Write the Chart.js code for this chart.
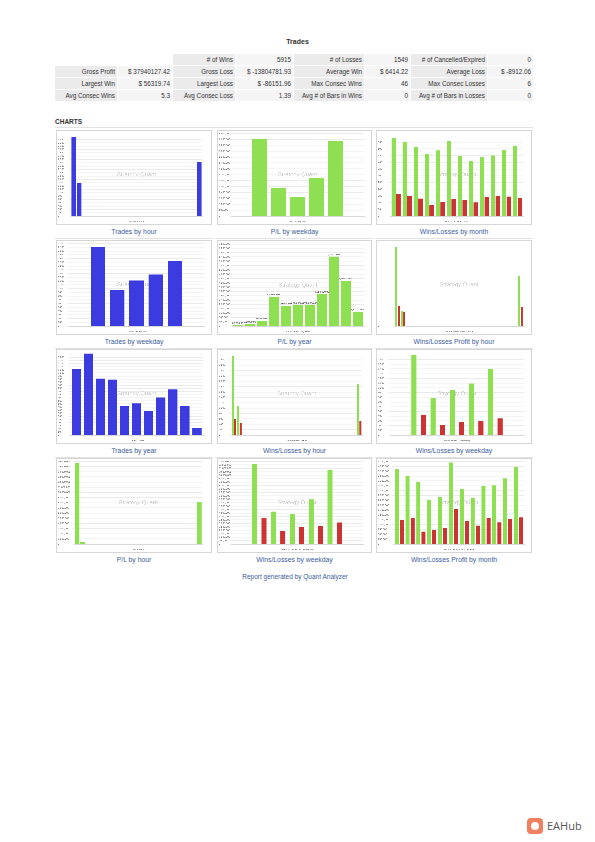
<!DOCTYPE html>
<html><head><meta charset="utf-8">
<script src="https://cdn.jsdelivr.net/npm/chart.js@4.4.0/dist/chart.umd.min.js"></script>
<style>
body{margin:0;width:595px;height:842px;background:#fff;font-family:"Liberation Sans",Arial,sans-serif;position:relative;overflow:hidden;color:#333}
.abs{position:absolute}
#title{left:0;width:595px;top:37px;text-align:center;font-weight:bold;font-size:7px;line-height:9px}
table{position:absolute;left:54px;top:53px;border-collapse:separate;border-spacing:1px;font-size:6.3px;table-layout:fixed;width:480px}
td{height:11px;padding:0 2px;text-align:right;white-space:nowrap;overflow:hidden;line-height:11px}
td.l{background:#ebebeb}
td.v{background:#f5f5f5}
#charts{left:55px;top:117px;font-weight:bold;font-size:6.5px;line-height:9px}
.hr{height:1px;background:#e2e2e2}
.box{border:1px solid #d6d6d6;box-sizing:border-box;background:#fff}
.box canvas{display:block}
.cap{text-align:center;font-size:6.8px;line-height:9px;color:#3d5c9c}
#foot{left:0;width:590px;top:572px;text-align:center;font-size:6.5px;line-height:9px;color:#3d5c9c}
#eah{left:527px;top:818px;width:16px;height:16px;border-radius:4px;background:#f08060}
#eah::after{content:"";position:absolute;left:4px;top:4px;width:8px;height:8px;border-radius:50%;background:#fff}
#eat{left:547px;top:818px;font-size:11px;line-height:16px;color:#555;font-family:"Open Sans",Arial,sans-serif}
</style></head>
<body>
<div id="title" class="abs">Trades</div>
<table>
<colgroup><col style="width:62px"><col style="width:54px"><col style="width:62px"><col style="width:57px"><col style="width:70px"><col style="width:45px"><col style="width:76px"><col style="width:45px"></colgroup>
<tr><td></td><td></td><td class="l"># of Wins</td><td class="v">5915</td><td class="l"># of Losses</td><td class="v">1549</td><td class="l"># of Cancelled/Expired</td><td class="v">0</td></tr>
<tr><td class="l">Gross Profit</td><td class="v">$ 37940127.42</td><td class="l">Gross Loss</td><td class="v">$ -13804781.93</td><td class="l">Average Win</td><td class="v">$ 6414.22</td><td class="l">Average Loss</td><td class="v">$ -8912.06</td></tr>
<tr><td class="l">Largest Win</td><td class="v">$ 56319.74</td><td class="l">Largest Loss</td><td class="v">$ -86151.96</td><td class="l">Max Consec Wins</td><td class="v">46</td><td class="l">Max Consec Losses</td><td class="v">6</td></tr>
<tr><td class="l">Avg Consec Wins</td><td class="v">5.3</td><td class="l">Avg Consec Loss</td><td class="v">1.39</td><td class="l">Avg # of Bars in Wins</td><td class="v">0</td><td class="l">Avg # of Bars in Losses</td><td class="v">0</td></tr>
</table>
<div id="charts" class="abs">CHARTS</div>
<div class="abs hr" style="left:55px;top:127px;width:478px"></div>
<div id="grid"></div>
<div id="foot" class="abs">Report generated by Quant Analyzer</div>
<div id="eah" class="abs"></div>
<div id="eat" class="abs">EAHub</div>

<script>
// ---------- DATA ----------
const hourLabels = ['0','1','2','3','4','5','6','7','8','9','10','11','12','13','14','15','16','17','18','19','20','21','22','23'];
const weekdayLabels = ['Sun','Mon','Tue','Wed','Thu','Fri','Sat'];
const monthLabels = ['Jan','Feb','Mar','Apr','May','Jun','Jul','Aug','Sep','Oct','Nov','Dec'];
const yearLabels = ['2008','2009','2010','2011','2012','2013','2014','2015','2016','2017','2018'];

const tradesByHour = [3550,1480,0,0,0,0,0,0,0,0,0,0,0,0,0,0,0,0,0,0,0,0,0,2430];
const plByHour = [15700000,350000,0,0,0,0,0,0,0,0,0,0,0,0,0,0,0,0,0,0,0,0,0,8080000];
const winsByHour = [2950,1070,0,0,0,0,0,0,0,0,0,0,0,0,0,0,0,0,0,0,0,0,0,1896];
const lossesByHour = [587,433,0,0,0,0,0,0,0,0,0,0,0,0,0,0,0,0,0,0,0,0,0,528];
const winProfitByHour = [20830000,3970000,0,0,0,0,0,0,0,0,0,0,0,0,0,0,0,0,0,0,0,0,0,13090000];
const lossProfitByHour = [5200000,3600000,0,0,0,0,0,0,0,0,0,0,0,0,0,0,0,0,0,0,0,0,0,5000000];

const tradesByWeekday = [0,2112,968,1214,1373,1742,0];
const plByWeekday = [0,7860000,2880000,1900000,3840000,7660000,0];
const winsByWeekday = [0,1691,780,954,1093,1399,0];
const lossesByWeekday = [0,420,207,275,296,351,0];
const winProfitByWeekday = [0,11600000,4720000,4350000,6480000,10790000,0];
const lossProfitByWeekday = [0,3740000,1840000,2450000,2640000,3130000,0];

const winsByMonth = [582,550,514,460,489,557,446,409,438,451,492,524];
const lossesByMonth = [165,150,130,83,106,126,121,101,140,148,145,133];
const winProfitByMonth = [3850000,3520000,3210000,2260000,2430000,4200000,2830000,2390000,3000000,3020000,3380000,3960000];
const lossProfitByMonth = [1220000,1330000,640000,710000,820000,1790000,1200000,950000,1330000,1110000,1270000,1370000];

const tradesByYear = [1066,1313,909,893,473,509,384,605,735,468,110];
const plByYear = [60000,182000,494000,2720000,1880000,1920000,1920000,2960000,6430000,4200000,1330000];

// ---------- STYLE ----------
const FONT = "'Liberation Sans', Arial, sans-serif";
const BLUE = '#3b3bdf', GREEN = '#8ee052', RED = '#cc3434';

const watermark = {
  id: 'wm',
  beforeDatasetsDraw(chart) {
    const {ctx, chartArea: a} = chart;
    ctx.save();
    ctx.font = '5.8px ' + FONT;
    ctx.fillStyle = '#cfcfcf';
    ctx.textAlign = 'center';
    ctx.textBaseline = 'middle';
    ctx.fillText('Strategy Quant', (a.left + a.right) / 2, (a.top + a.bottom) / 2);
    ctx.restore();
  }
};
const valueLabels = {
  id: 'vl',
  afterDatasetsDraw(chart, args, opts) {
    if (!opts.on) return;
    const {ctx} = chart;
    ctx.save();
    ctx.font = '2.5px ' + FONT;
    ctx.fillStyle = '#333';
    ctx.textAlign = 'center';
    ctx.textBaseline = 'bottom';
    const meta = chart.getDatasetMeta(0);
    meta.data.forEach((el, i) => {
      const v = chart.data.datasets[0].data[i];
      ctx.fillText(v.toLocaleString('en-US') + '.00', el.x, el.y - 0.8);
    });
    ctx.restore();
  }
};

function makeChart(canvas, labels, datasets, c) {
  return new Chart(canvas, {
    type: 'bar',
    data: {labels, datasets: datasets.map(d => ({
      data: d.data, backgroundColor: d.color, borderWidth: 0,
      categoryPercentage: c.cat, barPercentage: c.bar
    }))},
    options: {
      responsive: false, animation: false, devicePixelRatio: 3,
      layout: {padding: {left: 1, right: c.padR, top: c.top || 2, bottom: 1}},
      plugins: {legend: {display: false}, tooltip: {enabled: false}, vl: {on: !!c.labels}},
      scales: {
        x: {
          grid: {display: false},
          border: {color: '#bbb', width: 0.6},
          ticks: {font: {size: 2.5, family: FONT}, color: '#555', maxRotation: 0, autoSkip: false, padding: 1.5},
          title: {display: true, text: c.title, font: {size: 2.5, family: FONT}, color: '#555', padding: {top: 0.5, bottom: 0}},
          afterFit(s) { s.height = 7; }
        },
        y: {
          min: 0, max: c.max,
          ticks: {stepSize: c.step, font: {size: 2.5, family: FONT}, color: '#555', autoSkip: false, padding: 1, crossAlign: 'far'},
          grid: {color: '#ebebeb', lineWidth: 0.6, tickLength: 1.5},
          border: {display: false},
          afterBuildTicks(s) { s.ticks = s.ticks.filter(t => Math.abs(t.value / c.step - Math.round(t.value / c.step)) < 1e-6); },
          afterFit(s) { s.width = c.yW; }
        }
      }
    },
    plugins: [watermark, valueLabels]
  });
}

const lefts = [56, 217, 376], widths = [156, 155, 156], tops = [130, 240, 349, 458], H = 95;
const specs = [
  {cap: 'Trades by hour', labels: hourLabels, ds: [{data: tradesByHour, color: BLUE}], c: {max: 3720, step: 150, title: 'Trades / Hour', yW: 13, padR: 9, cat: 0.9, bar: 0.92}},
  {cap: 'P/L by weekday', labels: weekdayLabels, ds: [{data: plByWeekday, color: GREEN}], c: {max: 8400000, step: 600000, title: 'P/L / Weekday', yW: 12, padR: 7, cat: 0.85, bar: 0.9}},
  {cap: 'Wins/Losses by month', labels: monthLabels, ds: [{data: winsByMonth, color: GREEN}, {data: lossesByMonth, color: RED}], c: {max: 615, step: 50, title: 'Wins/Losses / Month', yW: 12.6, padR: 8, cat: 0.85, bar: 0.93}},
  {cap: 'Trades by weekday', labels: weekdayLabels, ds: [{data: tradesByWeekday, color: BLUE}], c: {max: 2200, step: 100, title: 'Trades / Weekday', yW: 11, padR: 7, cat: 0.85, bar: 0.88}},
  {cap: 'P/L by year', labels: yearLabels, ds: [{data: plByYear, color: GREEN}], c: {max: 7600000, step: 400000, title: 'P/L in Dollars by Year', yW: 12.7, padR: 7, cat: 0.9, bar: 0.94, labels: true, top: 3}},
  {cap: 'Wins/Losses Profit by hour', labels: hourLabels, ds: [{data: winProfitByHour, color: GREEN}, {data: lossProfitByHour, color: RED}], c: {max: 21700000, step: 1000000, title: 'Wins/Losses Profit / Hour', yW: 17, padR: 8, cat: 1.0, bar: 0.74}},
  {cap: 'Trades by year', labels: yearLabels, ds: [{data: tradesByYear, color: BLUE}], c: {max: 1330, step: 50, title: 'Trades / Year', yW: 12.3, padR: 8, cat: 0.85, bar: 0.9}},
  {cap: 'Wins/Losses by hour', labels: hourLabels, ds: [{data: winsByHour, color: GREEN}, {data: lossesByHour, color: RED}], c: {max: 3070, step: 200, title: 'Wins/Losses / Hour', yW: 12.3, padR: 9, cat: 0.85, bar: 0.87}},
  {cap: 'Wins/Losses by weekday', labels: weekdayLabels, ds: [{data: winsByWeekday, color: GREEN}, {data: lossesByWeekday, color: RED}], c: {max: 1750, step: 100, title: 'Wins/Losses / Weekday', yW: 12, padR: 7, cat: 1.0, bar: 0.53}},
  {cap: 'P/L by hour', labels: hourLabels, ds: [{data: plByHour, color: GREEN}], c: {max: 16000000, step: 1000000, title: 'P/L / Hour', yW: 16.5, padR: 9, cat: 0.9, bar: 0.94}},
  {cap: 'Wins/Losses by weekday', labels: weekdayLabels, ds: [{data: winProfitByWeekday, color: GREEN}, {data: lossProfitByWeekday, color: RED}], c: {max: 12000000, step: 500000, title: 'Wins/Losses Profit / Weekday', yW: 12, padR: 8, cat: 1.0, bar: 0.53}},
  {cap: 'Wins/Losses Profit by month', labels: monthLabels, ds: [{data: winProfitByMonth, color: GREEN}, {data: lossProfitByMonth, color: RED}], c: {max: 4250000, step: 250000, title: 'Wins/Losses Profit / Month', yW: 15.8, padR: 7, cat: 0.94, bar: 0.78}}
];

const grid = document.getElementById('grid');
const cellL = [55, 215, 375];
specs.forEach((s, i) => {
  const r = Math.floor(i / 3), col = i % 3;
  const box = document.createElement('div');
  box.className = 'abs box';
  box.style.cssText = `left:${lefts[col]}px;top:${tops[r]}px;width:${widths[col]}px;height:${H}px`;
  const cv = document.createElement('canvas');
  cv.width = widths[col] - 2; cv.height = H - 2;
  cv.style.width = (widths[col] - 2) + 'px'; cv.style.height = (H - 2) + 'px';
  box.appendChild(cv);
  grid.appendChild(box);
  const cap = document.createElement('div');
  cap.className = 'abs cap';
  cap.style.cssText = `left:${lefts[col]}px;width:${widths[col]}px;top:${tops[r] + H + 2}px`;
  cap.textContent = s.cap;
  grid.appendChild(cap);
  if (r < 3) {
    const hr = document.createElement('div');
    hr.className = 'abs hr';
    hr.style.cssText = `left:${cellL[col]}px;width:158px;top:${tops[r] + H + 13}px`;
    grid.appendChild(hr);
  }
  makeChart(cv, s.labels, s.ds, s.c);
});
</script>
</body></html>
